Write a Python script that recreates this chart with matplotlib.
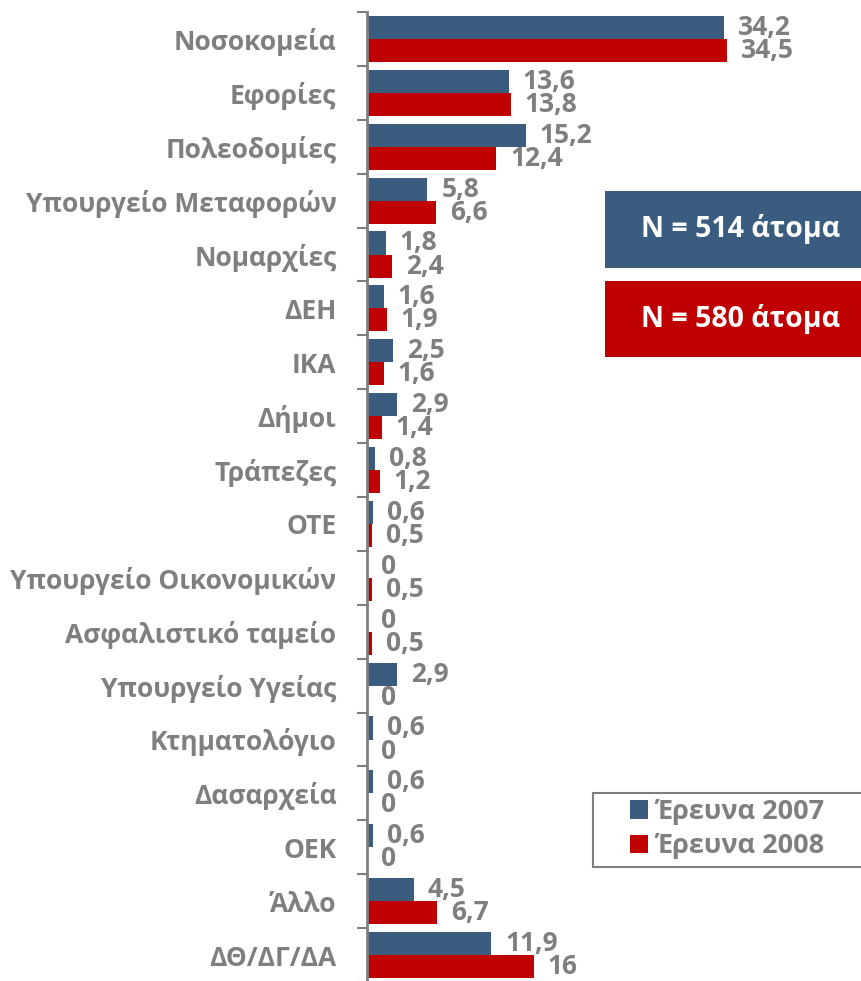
import matplotlib
matplotlib.use("Agg")
import matplotlib.pyplot as plt
from matplotlib.patches import Rectangle, Patch
import numpy as np

plt.rcParams['font.family'] = ['Open Sans', 'DejaVu Sans']
plt.rcParams['font.weight'] = 'bold'

categories = ['Νοσοκομεία', 'Εφορίες', 'Πολεοδομίες', 'Υπουργείο Μεταφορών',
              'Νομαρχίες', 'ΔΕΗ', 'ΙΚΑ', 'Δήμοι', 'Τράπεζες', 'ΟΤΕ',
              'Υπουργείο Οικονομικών', 'Ασφαλιστικό ταμείο', 'Υπουργείο Υγείας',
              'Κτηματολόγιο', 'Δασαρχεία', 'ΟΕΚ', 'Άλλο', 'ΔΘ/ΔΓ/ΔΑ']
values_2007 = [34.2, 13.6, 15.2, 5.8, 1.8, 1.6, 2.5, 2.9, 0.8, 0.6,
               0, 0, 2.9, 0.6, 0.6, 0.6, 4.5, 11.9]
values_2008 = [34.5, 13.8, 12.4, 6.6, 2.4, 1.9, 1.6, 1.4, 1.2, 0.5,
               0.5, 0.5, 0, 0, 0, 0, 6.7, 16]
series_names = ['Έρευνα 2007', 'Έρευνα 2008']
sample_texts = ['N = 514 άτομα', 'N = 580 άτομα']

blue = '#395c7f'
red = '#c00000'
gray = '#7f7f7f'
fs = 19

W, H = 861, 981
fig = plt.figure(figsize=(W / 100, H / 100), dpi=100)
ax = fig.add_axes([367 / W, (H - 982) / H, (W - 367) / W, (982 - 12) / H])

y = np.arange(len(categories))
bh = 0.427
b1 = ax.barh(y - bh / 2, values_2007, height=bh, color=blue)
b2 = ax.barh(y + bh / 2, values_2008, height=bh, color=red)


def fmt(v):
    s = f"{v:.1f}".replace('.', ',')
    return s[:-2] if s.endswith(',0') else s


for bars, vals in [(b1, values_2007), (b2, values_2008)]:
    for bar, v in zip(bars, vals):
        ax.annotate(fmt(v), (v, bar.get_y() + bar.get_height() / 2),
                    xytext=(10, 0), textcoords='offset points',
                    ha='left', va='center', color=gray, fontsize=fs,
                    fontweight='bold')

ax.set_xlim(0, (W - 367) / 10.43)
ax.set_ylim(len(categories) - 0.5, -0.5)

ax.set_yticks(y)
ax.set_yticklabels(categories, fontsize=fs, color=gray, fontweight='bold')
ax.tick_params(axis='y', which='major', length=0, pad=22)
ax.set_yticks(np.arange(-0.5, len(categories) + 0.5, 1), minor=True)
ax.tick_params(axis='y', which='minor', length=7, width=1.5, color=gray)
ax.set_xticks([])
for s in ['top', 'right', 'bottom']:
    ax.spines[s].set_visible(False)
ax.spines['left'].set_color(gray)
ax.spines['left'].set_linewidth(2)

# sample size boxes
for (top, bottom), col, txt in [((191, 268), blue, sample_texts[0]),
                                ((281, 357), red, sample_texts[1])]:
    fig.patches.append(Rectangle((605 / W, 1 - bottom / H), (W - 605) / W,
                                 (bottom - top) / H, transform=fig.transFigure,
                                 facecolor=col, edgecolor='none'))
    fig.text(741 / W, 1 - (top + bottom) / 2 / H, txt, color='white',
             fontsize=20.5, fontweight='bold', ha='center', va='center')

# legend with a frame running off the right edge
fig.patches.append(Rectangle((593 / W, 1 - 867 / H), (880 - 593) / W,
                             (867 - 793) / H, transform=fig.transFigure,
                             facecolor='white', edgecolor=gray, linewidth=1.5))
handles = [Patch(facecolor=blue), Patch(facecolor=red)]
leg = fig.legend(handles, series_names, loc='upper left',
                 bbox_to_anchor=(630 / W, 1 - 799 / H), fontsize=19.5,
                 frameon=False, handlelength=0.65, handleheight=0.65,
                 handletextpad=0.3, labelspacing=0.3, borderpad=0,
                 borderaxespad=0)
for t in leg.get_texts():
    t.set_color(gray)
    t.set_fontweight('bold')

fig.savefig('out.png', dpi=100)
